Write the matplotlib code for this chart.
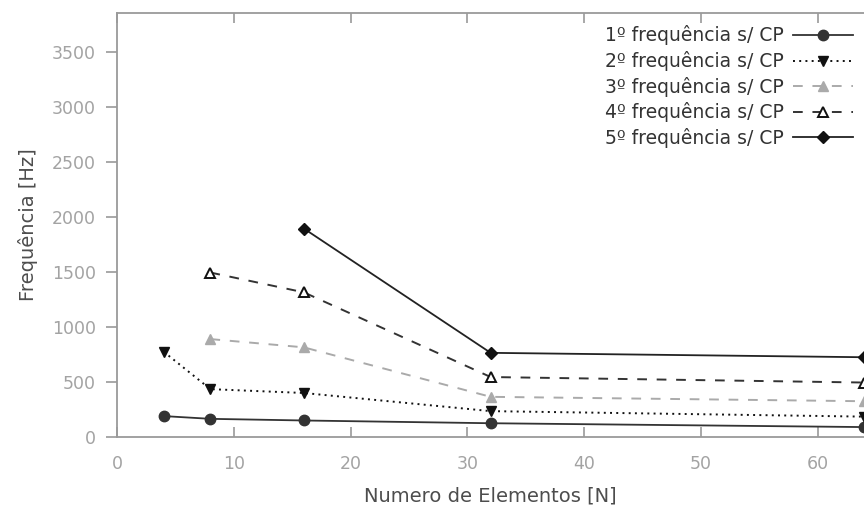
"""Natural frequencies vs. number of elements (no CP)."""

import matplotlib
matplotlib.use("Agg")
import matplotlib.pyplot as plt

plt.rcParams["font.family"] = ["DejaVu Sans"]

# number of elements in the mesh
elementos = [4, 8, 16, 32, 64]
elementos_8 = [8, 16, 32, 64]
elementos_16 = [16, 32, 64]

freq_1 = [190, 165, 150, 125, 90]
freq_2 = [775, 435, 400, 235, 185]
freq_3 = [890, 815, 365, 325]
freq_4 = [1495, 1315, 545, 495]
freq_5 = [1895, 765, 725]

labels = [
    "1º frequência s/ CP",
    "2º frequência s/ CP",
    "3º frequência s/ CP",
    "4º frequência s/ CP",
    "5º frequência s/ CP",
]

AXIS_GREY = "#9a9a9a"
TICK_GREY = "#a3a3a3"
TEXT_GREY = "#4d4d4d"

fig = plt.figure(figsize=(8.64, 5.18), dpi=100)
ax = fig.add_axes([0.1354, 0.1564, 0.8650, 0.8186])

ax.plot(elementos, freq_1, color="#333333", lw=1.3, ls="-", marker="o",
        ms=7.5, mfc="#333333", mec="#333333", label=labels[0], clip_on=False)
ax.plot(elementos, freq_2, color="#111111", lw=1.4, ls=(0, (1, 2.2)), marker="v",
        ms=7.5, mfc="#111111", mec="#111111", label=labels[1], clip_on=False)
ax.plot(elementos_8, freq_3, color="#aaaaaa", lw=1.4, ls=(0, (5, 5)), marker="^",
        ms=7.5, mfc="#aaaaaa", mec="#aaaaaa", label=labels[2], clip_on=False)
ax.plot(elementos_8, freq_4, color="#333333", lw=1.4, ls=(0, (5, 5)), marker="^",
        ms=7.5, mfc="white", mec="#111111", mew=1.4, label=labels[3], clip_on=False)
ax.plot(elementos_16, freq_5, color="#222222", lw=1.3, ls="-", marker="D",
        ms=6, mfc="#111111", mec="#111111", label=labels[4], clip_on=False)

ax.set_xlim(0, 64)
ax.set_ylim(0, 3855)
ax.set_xticks([0, 10, 20, 30, 40, 50, 60])
ax.set_yticks([0, 500, 1000, 1500, 2000, 2500, 3000, 3500])

for side in ("left", "bottom", "top"):
    ax.spines[side].set_color(AXIS_GREY)
    ax.spines[side].set_linewidth(1.3)
ax.spines["right"].set_visible(False)

ax.tick_params(axis="x", direction="in", length=7, width=1.2, color=AXIS_GREY,
               labelcolor=TICK_GREY, labelsize=12.5, pad=13, top=True)
ax.tick_params(axis="y", direction="out", length=8, width=1.2, color=AXIS_GREY,
               labelcolor=TICK_GREY, labelsize=12.5, pad=7)

ax.set_xlabel("Numero de Elementos [N]", fontsize=14, color=TEXT_GREY, labelpad=10)
ax.set_ylabel("Frequência [Hz]", fontsize=14, color=TEXT_GREY, labelpad=10)

leg = ax.legend(loc="upper right", bbox_to_anchor=(1.0, 0.997), frameon=False,
                markerfirst=False, fontsize=13.5, handlelength=3.2,
                handletextpad=0.5, labelspacing=0.3, borderaxespad=0.2)
for t in leg.get_texts():
    t.set_color("#333333")

fig.savefig("out.png", dpi=100)
